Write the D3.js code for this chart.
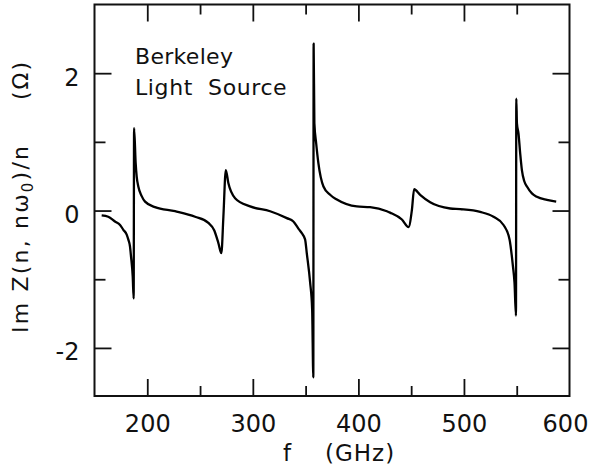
<!DOCTYPE html>
<html lang="en">
<head>
<meta charset="UTF-8">
<title>Im Z - Berkeley Light Source</title>
<script src="https://d3js.org/d3.v7.min.js"></script>
<style>
  body { margin: 0; background: #fff; }
  text { font-family: "DejaVu Sans", sans-serif; fill: #111; }
</style>
</head>
<body>
<div id="chart"></div>
<script>
// frequency (GHz) and Im Z(n, n w0)/n (Ohm)
const freq = [
  156.8, 163.0, 169.4, 174.2, 177.3, 180.5, 182.0, 183.6, 184.6, 186.2, 187.1,
  187.5, 189.0, 190.0, 191.5, 194.7, 197.9, 207.3, 226.3, 245.3, 257.9, 263.5,
  267.3, 270.2, 272.1, 274.4, 276.8, 283.2, 297.4, 316.4, 332.2, 338.4, 343.5,
  346.4, 349.5, 351.1, 354.3, 356.2, 357.3,
  357.6, 358.3, 360.0, 362.1, 366.9, 373.2, 379.6, 398.5, 411.1, 427.0, 430.0,
  441.2, 447.5, 450.7, 452.8, 458.5, 468.0, 487.0, 496.4, 515.4, 528.0, 537.5,
  543.2, 546.4, 547.9, 549.3,
  549.6, 550.2, 551.7, 553.3, 554.9, 557.1, 559.7, 564.4, 569.1, 578.6, 587.4
];
const imZ = [
  -0.07, -0.09, -0.16, -0.21, -0.28, -0.35, -0.42, -0.52, -0.67, -0.96, -1.28,
  1.20, 0.69, 0.49, 0.35, 0.21, 0.13, 0.05, -0.01, -0.09, -0.18, -0.29,
  -0.47, -0.62, -0.09, 0.59, 0.40, 0.18, 0.06, -0.01, -0.11, -0.16, -0.27,
  -0.33, -0.42, -0.62, -1.05, -1.44, -2.43,
  2.43, 1.27, 0.98, 0.69, 0.35, 0.23, 0.16, 0.06, 0.05, -0.01, -0.03,
  -0.13, -0.24, 0.01, 0.31, 0.23, 0.12, 0.03, 0.02, -0.02, -0.09, -0.21,
  -0.42, -0.81, -1.05, -1.53,
  1.63, 1.27, 1.12, 0.83, 0.59, 0.43, 0.35, 0.25, 0.20, 0.155, 0.13
];

const xMajor = [200, 300, 400, 500];
const xMinor = [250, 350, 450, 550];
const xLabels = [200, 300, 400, 500];
const yMajor = [-2, 0, 2];
const yMinor = [-1, 1];

const width = 591, height = 471;
const mLeft = 94.5, mRight = 569.5, mTop = 4.5, mBottom = 396;

const x = d3.scaleLinear().domain([150, 600]).range([mLeft, mRight]);
const y = d3.scaleLinear().domain([-2.7, 3]).range([mBottom, mTop]);

const svg = d3.select("#chart").append("svg")
  .attr("width", width)
  .attr("height", height);

svg.append("rect").attr("width", width).attr("height", height).attr("fill", "#fff");

const fmt = d => String(d); // plain hyphen for minus

// bottom axis, ticks pointing inwards; labels drawn by a tickless axis
svg.append("g").attr("transform", `translate(0,${mBottom})`)
  .call(d3.axisBottom(x).tickValues(xMajor).tickSize(-17).tickFormat(""));
svg.append("g").attr("transform", `translate(0,${mBottom})`)
  .call(d3.axisBottom(x).tickValues(xMinor).tickSize(-10).tickFormat(""));
const gxl = svg.append("g").attr("transform", `translate(0,${mBottom})`)
  .call(d3.axisBottom(x).tickValues(xLabels).tickSize(0).tickPadding(19).tickFormat(fmt));
gxl.selectAll(".tick line").remove();
// last label sits right at the window edge, pull it in a little
svg.append("text")
  .attr("x", x(600) - 4).attr("y", mBottom + 36)
  .attr("text-anchor", "middle")
  .attr("font-size", 24)
  .text(fmt(600));

// top axis
svg.append("g").attr("transform", `translate(0,${mTop})`)
  .call(d3.axisTop(x).tickValues(xMajor).tickSize(-17).tickFormat(""));
svg.append("g").attr("transform", `translate(0,${mTop})`)
  .call(d3.axisTop(x).tickValues(xMinor).tickSize(-10).tickFormat(""));

// left axis
const gy = svg.append("g").attr("transform", `translate(${mLeft},0)`)
  .call(d3.axisLeft(y).tickValues(yMajor).tickSize(-17).tickPadding(15).tickFormat(fmt));
svg.append("g").attr("transform", `translate(${mLeft},0)`)
  .call(d3.axisLeft(y).tickValues(yMinor).tickSize(-11).tickFormat(""));

// right axis
svg.append("g").attr("transform", `translate(${mRight},0)`)
  .call(d3.axisRight(y).tickValues(yMajor).tickSize(-17).tickFormat(""));
svg.append("g").attr("transform", `translate(${mRight},0)`)
  .call(d3.axisRight(y).tickValues(yMinor).tickSize(-11).tickFormat(""));

svg.selectAll(".domain").remove();
svg.selectAll(".tick line").attr("stroke", "#111").attr("stroke-width", 1.8);
svg.selectAll(".tick text").attr("font-size", 24).attr("fill", "#111");
gxl.selectAll(".tick text").attr("dy", "0.71em");
gy.selectAll(".tick text").attr("dy", "0.5em");

// frame
svg.append("rect")
  .attr("x", mLeft).attr("y", mTop)
  .attr("width", mRight - mLeft).attr("height", mBottom - mTop)
  .attr("fill", "none")
  .attr("stroke", "#111")
  .attr("stroke-width", 2);

// curve
const line = d3.line()
  .x((d, i) => x(freq[i]))
  .y(d => y(d))
  .curve(d3.curveMonotoneX);

svg.append("path")
  .datum(imZ)
  .attr("fill", "none")
  .attr("stroke", "#000")
  .attr("stroke-width", 2.3)
  .attr("stroke-linejoin", "round")
  .attr("d", line);

// annotation
svg.append("text").attr("x", 135).attr("y", 64).attr("font-size", 22)
  .attr("letter-spacing", 0.3).text("Berkeley");
svg.append("text").attr("x", 135).attr("y", 95).attr("font-size", 22)
  .attr("letter-spacing", 0.6)
  .attr("xml:space", "preserve").text("Light  Source");

// x axis title
svg.append("text").attr("x", 287).attr("y", 461).attr("font-size", 23)
  .attr("text-anchor", "middle").text("f");
svg.append("text").attr("x", 325).attr("y", 461).attr("font-size", 23)
  .attr("letter-spacing", 1).text("(GHz)");

// y axis title, rotated
const ylab = svg.append("text")
  .attr("transform", "translate(28,333) rotate(-90)")
  .attr("font-size", 22)
  .attr("letter-spacing", 2.2);
ylab.append("tspan").text("Im Z(n, nω");
ylab.append("tspan").attr("font-size", 15).attr("dy", 5).text("0");
ylab.append("tspan").attr("dy", -5).text(")/n");
svg.append("text")
  .attr("transform", "translate(28,100) rotate(-90)")
  .attr("font-size", 22)
  .attr("letter-spacing", 2)
  .text("(Ω)");
</script>
</body>
</html>
